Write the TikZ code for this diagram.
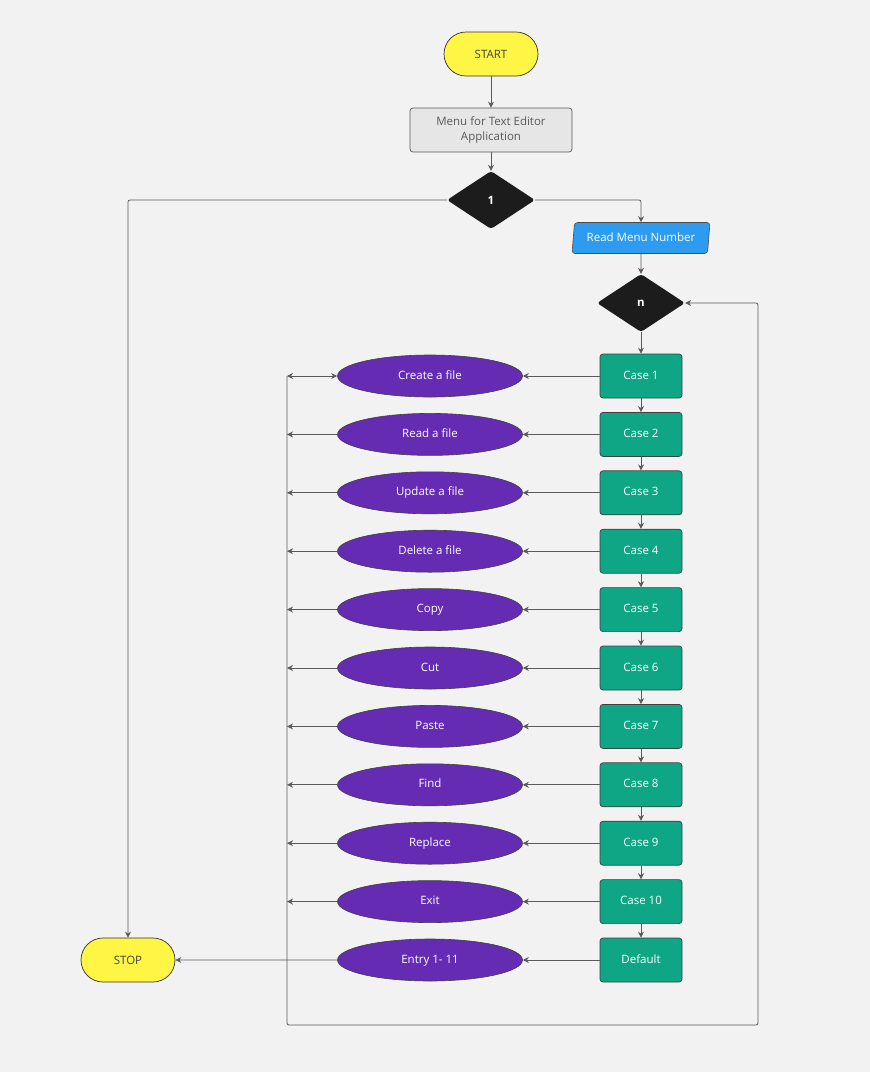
\documentclass[tikz,border=0pt]{standalone}
\usepackage{fontspec}
\setmainfont{Open Sans}
\usetikzlibrary{shapes.geometric,arrows.meta}

\definecolor{bggray}{HTML}{F2F2F2}
\definecolor{termyellow}{HTML}{FFF545}
\definecolor{menugray}{HTML}{E6E6E6}
\definecolor{decblack}{HTML}{1C1C1C}
\definecolor{inblue}{HTML}{2D9BF0}
\definecolor{casegreen}{HTML}{0FA686}
\definecolor{actpurple}{HTML}{652CB3}
\definecolor{linegray}{HTML}{5A5A5A}

\begin{document}
\begin{tikzpicture}[x=1pt,y=-1pt,
    every node/.style={font=\fontsize{11.5}{14.5}\selectfont},
    terminal/.style={draw=black!80, fill=termyellow, text=black!75, rounded corners=22pt,
        minimum width=94pt, minimum height=44pt, inner sep=0pt, line width=0.7pt},
    menubox/.style={draw=black!65, fill=menugray, text=black!65, rounded corners=3pt,
        minimum width=162pt, minimum height=44pt, align=center, line width=0.7pt},
    decision/.style={diamond, fill=decblack, text=white, rounded corners=3pt,
        minimum width=88pt, minimum height=58pt, inner sep=0pt, font=\fontsize{11.5}{14}\bfseries},
    inputbox/.style={trapezium, trapezium left angle=77, trapezium right angle=103,
        trapezium stretches body, draw=black!70, fill=inblue, text=white, rounded corners=3pt,
        minimum width=138pt, minimum height=31pt, inner sep=0pt, line width=0.6pt,
        text height=8.5pt, text depth=2.5pt},
    casebox/.style={draw=black!75, fill=casegreen, text=white, rounded corners=3pt,
        minimum width=82pt, minimum height=44pt, inner sep=0pt, line width=0.7pt,
        text height=8.5pt, text depth=2.5pt},
    action/.style={ellipse, draw=black!75, fill=actpurple, text=white,
        minimum width=185pt, minimum height=42pt, inner sep=0pt, line width=0.6pt,
        text height=8.5pt, text depth=2.5pt},
    flow/.style={draw=linegray, line width=0.8pt, -{Stealth[length=6pt,width=6pt]}}]

    \useasboundingbox[fill=bggray] (0,0) rectangle (870,1072);

    % top of the chart
    \node[terminal] (start) at (491,54) {START};
    \node[menubox] (menu) at (491,130) {Menu for Text Editor\\Application};
    \node[decision] (one) at (491,200) {1};
    \node[inputbox] (readnum) at (641,238) {Read Menu Number};
    \node[decision] (choice) at (641,303) {n};
    \node[terminal] (stop) at (128,960) {STOP};

    \draw[flow] (start) -- (menu);
    \draw[flow] (menu) -- (one);
    \draw[flow, rounded corners=2pt] (one.west) -| (stop.north);
    \draw[flow, rounded corners=2pt] (one.east) -| (readnum.north);
    \draw[flow] (readnum) -- (choice);

    % collecting line on the left and the way back to n
    \coordinate (bustop) at (287,376);
    \coordinate (busbot) at (287,1025);
    \coordinate (loopcorner) at (758,1025);

    % cases and what each one does
    \foreach \lbl/\act [count=\i] in {Case 1/Create a file, Case 2/Read a file,
        Case 3/Update a file, Case 4/Delete a file, Case 5/Copy, Case 6/Cut,
        Case 7/Paste, Case 8/Find, Case 9/Replace, Case 10/Exit, Default/Entry 1- 11}{
        \node[casebox] (case\i) at (641,{376+58.4*(\i-1)}) {\lbl};
        \node[action] (act\i) at (430,{376+58.4*(\i-1)}) {\act};
        \draw[flow] (case\i) -- (act\i);
    }

    \draw[flow] (choice) -- (case1);
    \foreach \i [remember=\i as \prev (initially 1)] in {2,...,11}
        \draw[flow] (case\prev) -- (case\i);

    \draw[flow, {Stealth[length=6pt,width=6pt]}-{Stealth[length=6pt,width=6pt]}]
        (act1.west) -- (bustop);
    \foreach \i in {2,...,10}
        \draw[flow] (act\i.west) -- (act\i.west -| bustop);
    \draw[flow] (act11.west) -- (stop.east);

    \draw[flow, rounded corners=2pt] (bustop) -- (busbot) -- (loopcorner) |- (choice.east);
\end{tikzpicture}
\end{document}
